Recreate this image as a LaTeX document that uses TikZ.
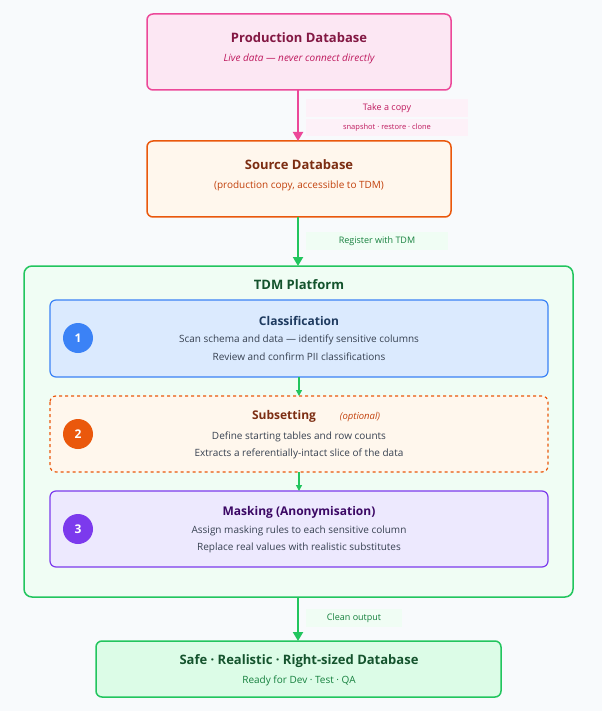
\documentclass[tikz,border=0pt]{standalone}
\usepackage{fontspec}
\setmainfont{Open Sans}
\usetikzlibrary{arrows.meta}
\definecolor{bgc}{HTML}{F8FAFC}
\definecolor{pinkF}{HTML}{FCE7F3}\definecolor{pinkB}{HTML}{EC4899}
\definecolor{pinkT}{HTML}{831843}\definecolor{pinkS}{HTML}{BE185D}
\definecolor{oraF}{HTML}{FFF7ED}\definecolor{oraB}{HTML}{EA580C}
\definecolor{oraT}{HTML}{7C2D12}\definecolor{oraS}{HTML}{C2410C}
\definecolor{grnF}{HTML}{F0FDF4}\definecolor{grnB}{HTML}{22C55E}
\definecolor{grnT}{HTML}{14532D}\definecolor{grnS}{HTML}{15803D}
\definecolor{finF}{HTML}{DCFCE7}
\definecolor{bluF}{HTML}{DBEAFE}\definecolor{bluB}{HTML}{3B82F6}\definecolor{bluT}{HTML}{1E3A5F}
\definecolor{vioF}{HTML}{EDE9FE}\definecolor{vioB}{HTML}{7C3AED}\definecolor{vioT}{HTML}{3B0764}
\definecolor{txt}{HTML}{374151}
\begin{document}
\begin{tikzpicture}[x=1pt,y=-1pt,
  box/.style={rounded corners=6pt, line width=1.5pt},
  lbl/.style={font=\fontsize{9}{10}\selectfont, inner sep=0pt},
  ttl/.style={font=\fontsize{13}{15}\selectfont\bfseries, inner sep=0pt},
  sub/.style={font=\fontsize{10}{12}\selectfont, inner sep=0pt},
  num/.style={circle, minimum size=30pt, inner sep=0pt, text=white, font=\fontsize{12}{12}\selectfont\bfseries},
  flow/.style={-{Triangle[length=9pt,width=10pt]}, line width=2pt},
  stepflow/.style={-{Triangle[length=6pt,width=6pt]}, line width=1.3pt, grnB}]

  % canvas
  \fill[bgc] (0,0) rectangle (602,711);

  % production and source
  \draw[box, fill=pinkF, draw=pinkB] (147,14) rectangle (451,90);
  \node[ttl, text=pinkT] (prod) at (299,38) {Production Database};
  \node[sub, text=pinkS, font=\fontsize{10}{12}\selectfont\itshape] (prodsub) at (299,59) {Live data — never connect directly};
  \draw[box, fill=oraF, draw=oraB] (147,141) rectangle (451,217);
  \node[ttl, text=oraT] (src) at (299,165) {Source Database};
  \node[sub, text=oraS] (srcsub) at (299,186) {(production copy, accessible to TDM)};
  \coordinate (prodB) at (298,90);
  \coordinate (srcT) at (298,141);
  \draw[flow, pinkB] (prodB) -- (srcT);
  \fill[pinkF!60] (306,99) rectangle (468,117);
  \fill[pinkF!60] (306,119) rectangle (468,136);
  \node[lbl, text=pinkS] (copy) at (387,108) {Take a copy};
  \node[lbl, text=pinkS, font=\fontsize{7.5}{9}\selectfont] (how) at (387,128) {snapshot · restore · clone};

  % platform
  \coordinate (srcB) at (298,217);
  \coordinate (tdmT) at (298,266);
  \draw[flow, grnB] (srcB) -- (tdmT);
  \fill[grnF] (306,232) rectangle (448,250);
  \node[lbl, text=grnS] (reg) at (377,241) {Register with TDM};
  \draw[box, fill=grnF, draw=grnB, rounded corners=8pt] (24,266) rectangle (573,597);
  \node[ttl, text=grnT] (tdm) at (299,285) {TDM Platform};

  % steps
  \draw[box, fill=bluF, draw=bluB, line width=1.2pt] (50,300) rectangle (548,377);
  \node[num, fill=bluB] (n1) at (78,338) {1};
  \node[ttl, text=bluT, font=\fontsize{12}{14}\selectfont\bfseries] (cls) at (299,321) {Classification};
  \node[sub, text=txt] (cls1) at (299,340) {Scan schema and data — identify sensitive columns};
  \node[sub, text=txt] (cls2) at (299,357) {Review and confirm PII classifications};

  \draw[box, fill=oraF, draw=oraB, dashed, line width=1.2pt] (50,396) rectangle (548,472);
  \node[num, fill=oraB] (n2) at (78,434) {2};
  \node[ttl, text=oraT, font=\fontsize{12}{14}\selectfont\bfseries] (sub) at (284,416) {Subsetting};
  \node[sub, text=oraS, font=\fontsize{9.5}{12}\selectfont\itshape] (opt) at (360,417) {(optional)};
  \node[sub, text=txt] (sub1) at (299,437) {Define starting tables and row counts};
  \node[sub, text=txt] (sub2) at (299,454) {Extracts a referentially-intact slice of the data};

  \draw[box, fill=vioF, draw=vioB, line width=1.2pt] (50,491) rectangle (548,567);
  \node[num, fill=vioB] (n3) at (78,529) {3};
  \node[ttl, text=vioT, font=\fontsize{12}{14}\selectfont\bfseries] (msk) at (299,512) {Masking (Anonymisation)};
  \node[sub, text=txt] (msk1) at (299,531) {Assign masking rules to each sensitive column};
  \node[sub, text=txt] (msk2) at (299,548) {Replace real values with realistic substitutes};

  \coordinate (s1B) at (299,377); \coordinate (s2T) at (299,396);
  \coordinate (s2B) at (299,472); \coordinate (s3T) at (299,491);
  \draw[stepflow] (s1B) -- (s2T);
  \draw[stepflow] (s2B) -- (s3T);

  % output
  \coordinate (tdmB) at (298,597);
  \coordinate (outT) at (298,641);
  \draw[flow, grnB] (tdmB) -- (outT);
  \fill[grnF] (306,609) rectangle (402,627);
  \node[lbl, text=grnS] (clean) at (354,618) {Clean output};
  \draw[box, fill=finF, draw=grnB] (96,641) rectangle (501,697);
  \node[ttl, text=grnT] (out) at (299,661) {Safe · Realistic · Right-sized Database};
  \node[sub, text=grnS] (outsub) at (299,681) {Ready for Dev · Test · QA};
\end{tikzpicture}
\end{document}
